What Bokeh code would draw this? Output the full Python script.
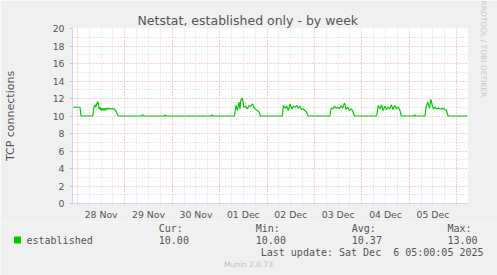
from bokeh.plotting import figure
from bokeh.models import FixedTicker, Grid, Range1d, Title
from bokeh.layouts import column
from bokeh.core.properties import value
from bokeh.embed import file_html
from bokeh.resources import INLINE

# ---- data (hours since 28 Nov 00:00) ----
hours = [-2.5, 1.3, 1.8, 7.8,
         8.3, 9.0, 9.3, 9.8, 10.3, 11.0, 11.5, 12.0, 12.5, 13.0, 13.5, 14.0, 14.5, 15.2, 15.7, 16.5, 18.7, 19.3, 20.7,
         32.5, 33.0, 33.5, 44.0, 44.5, 45.0,
         67.5, 68.0, 68.5,
         79.5, 80.3, 81.0, 81.8, 82.3, 82.7, 83.5, 84.3, 85.2, 86.0, 87.0, 87.7, 88.7, 89.3, 90.3, 91.2, 92.0, 92.7,
         103.7, 104.3, 105.2, 106.0, 106.8, 107.7, 108.5, 109.3, 110.2, 111.0, 111.8, 112.7, 113.5, 114.3, 115.2, 116.0, 116.8,
         127.8, 128.5, 129.3, 130.2, 131.0, 131.8, 132.7, 133.5, 134.3, 135.2, 136.0, 136.8, 137.7, 138.5, 139.3, 140.2,
         151.5, 152.3, 153.2, 154.0, 154.8, 155.7, 156.5, 157.3, 158.2, 159.0, 159.8, 160.7, 161.5, 162.3, 163.2, 164.0,
         170.2, 170.7, 171.2,
         176.0, 176.5, 177.3, 178.2, 179.0, 179.5, 180.2, 181.0, 181.8, 182.7, 183.5, 184.3, 185.2, 186.0, 186.8, 187.7, 197.5]
established = [11, 11, 10, 10,
               11.0, 11.28, 11.0, 11.4, 11.66, 10.82, 11.0, 10.63, 10.9, 10.63, 10.9, 10.63, 10.9, 10.74, 10.9, 10.82, 10.82, 10.63, 10.0,
               10, 10.15, 10, 10, 10.12, 10,
               10, 10.12, 10,
               10, 11.2, 10.63, 11.58, 10.82, 11.77, 12.04, 11.0, 11.12, 10.82, 11.2, 11.12, 11.39, 11.0, 10.74, 10.63, 10.44, 10.0,
               10, 11.2, 10.9, 11.12, 10.63, 11.39, 10.82, 11.12, 11.01, 11.2, 10.9, 11.12, 10.74, 10.82, 10.63, 10.44, 10.0,
               10, 10.9, 10.82, 11.12, 10.9, 11.01, 10.82, 11.2, 10.9, 11.5, 10.74, 11.01, 10.63, 10.82, 10.63, 10.0,
               10, 11.2, 10.82, 11.28, 10.63, 11.12, 10.74, 11.01, 10.82, 11.28, 10.74, 11.2, 10.82, 11.01, 10.74, 10.0,
               10, 10.12, 10,
               10, 11.01, 11.58, 10.9, 11.89, 11.39, 10.82, 11.01, 10.82, 10.9, 10.82, 10.82, 10.9, 10.74, 10.63, 10.0, 10]

day_labels = ["28 Nov", "29 Nov", "30 Nov", "01 Dec", "02 Dec", "03 Dec", "04 Dec", "05 Dec"]
day_centers = [12, 36, 60, 84, 108, 132, 156, 180]
midnights = [0, 24, 48, 72, 96, 120, 144, 168, 192]
six_hours = [0, 6, 12, 18, 24, 30, 36, 42, 48, 54, 60, 66, 72, 78, 84, 90, 96, 102, 108, 114,
             120, 126, 132, 138, 144, 150, 156, 162, 168, 174, 180, 186, 192]
y_ticks = [0, 2, 4, 6, 8, 10, 12, 14, 16, 18, 20]
y_minor = [1, 3, 5, 7, 9, 11, 13, 15, 17, 19]
stat_names = ["Cur:", "Min:", "Avg:", "Max:"]
stat_values = ["10.00", "10.00", "10.37", "13.00"]

title_text = "Netstat, established only - by week"
y_label = "TCP connections"
series_name = "established"
last_update = "Last update: Sat Dec \u00a06 05:00:05 2025"
footer = "Munin 2.0.73"
watermark = "RRDTOOL / TOBI OETIKER"

TEXT = "#555555"
FONT = "DejaVu Sans"
MONO = "DejaVu Sans Mono"
BG = "#f0f0f0"
AXIS = "#cfd6f8"
MGRID = "#eba0a0"
GRID = "#d4d4d4"

p = figure(width=497, height=222, output_backend="svg", toolbar_location=None,
           x_range=Range1d(-2.5, 197.5), y_range=Range1d(0, 20),
           min_border_left=67, min_border_right=30, min_border_top=28, min_border_bottom=19)
p.frame_align = False
p.title.text = title_text
p.title.align = "left"
p.title.offset = 65
p.title.standoff = 2
p.title.text_font = FONT
p.title.text_font_size = "12.5px"
p.title.text_font_style = "normal"
p.title.text_color = TEXT
p.background_fill_color = "#ffffff"
p.border_fill_color = BG
p.outline_line_color = None

wm = Title(text=watermark, align="left", vertical_align="top", offset=-28,
           text_font=FONT, text_font_size="7.5px", text_font_style="normal",
           text_color="#c8c8c8", standoff=19)
p.add_layout(wm, "right")

# x axis: day labels at noon, 6-hour minor ticks
p.xaxis.ticker = FixedTicker(ticks=day_centers, minor_ticks=six_hours)
p.xaxis.major_label_overrides = {c: l for c, l in zip(day_centers, day_labels)}
p.xaxis.major_label_text_font = FONT
p.xaxis.major_label_text_font_size = "9.3px"
p.xaxis.major_label_text_color = TEXT
p.xaxis.major_label_standoff = 3
p.xaxis.axis_line_color = AXIS
p.xaxis.major_tick_line_color = None
p.xaxis.major_tick_in = 0
p.xaxis.major_tick_out = 2
p.xaxis.minor_tick_line_color = "#dddddd"
p.xaxis.minor_tick_in = 0
p.xaxis.minor_tick_out = 2

p.yaxis.ticker = FixedTicker(ticks=y_ticks, minor_ticks=y_minor)
p.yaxis.axis_line_color = AXIS
p.yaxis.major_tick_line_color = "#bbbbbb"
p.yaxis.major_tick_in = 0
p.yaxis.major_tick_out = 2
p.yaxis.minor_tick_line_color = None
p.yaxis.major_label_standoff = 4
p.yaxis.major_label_text_font = FONT
p.yaxis.major_label_text_font_size = "9.3px"
p.yaxis.major_label_text_color = TEXT
p.yaxis.axis_label = y_label
p.yaxis.axis_label_text_font = FONT
p.yaxis.axis_label_text_font_size = "11px"
p.yaxis.axis_label_text_font_style = "normal"
p.yaxis.axis_label_text_color = TEXT
p.yaxis.axis_label_standoff = 33

# grids
p.xgrid.ticker = FixedTicker(ticks=midnights)
p.xgrid.grid_line_color = MGRID
p.xgrid.grid_line_dash = "1 2"
p.add_layout(Grid(dimension=0, ticker=FixedTicker(ticks=[h for h in six_hours if h not in midnights]),
                  grid_line_color=GRID, grid_line_dash="1 2"), "center")
p.ygrid.ticker = FixedTicker(ticks=y_ticks[1:], minor_ticks=y_minor)
p.ygrid.grid_line_color = MGRID
p.ygrid.grid_line_dash = "1 2"
p.ygrid.minor_grid_line_color = GRID
p.ygrid.minor_grid_line_dash = "1 2"

p.line(hours, established, line_color="#00cc00", line_width=1.2)

# ---- legend panel (pixel coordinates of the panel) ----
q = figure(width=497, height=53, output_backend="svg", toolbar_location=None,
           x_range=Range1d(0, 497), y_range=Range1d(53, 0),
           x_axis_location=None, y_axis_location=None,
           min_border=0, min_border_left=0, min_border_right=0, min_border_top=0, min_border_bottom=0)
q.frame_align = False
q.grid.visible = False
q.outline_line_color = None
q.background_fill_color = BG
q.border_fill_color = BG

q.scatter([17], [17.5], marker="square", size=6, fill_color="#00cc00", line_color="#00cc00")
q.text([26], [17.5], text=[series_name], text_font=value(MONO), text_font_size="10px",
       text_color=TEXT, text_align="left", text_baseline="middle")
stat_x = [158.3, 255.3, 351.3, 447.0]
q.text(stat_x, [5.5] * 4, text=stat_names, text_font=value(MONO), text_font_size="10px",
       text_color=TEXT, text_align="left", text_baseline="middle")
q.text(stat_x, [17.5] * 4, text=stat_values, text_font=value(MONO), text_font_size="10px",
       text_color=TEXT, text_align="left", text_baseline="middle")
q.text([483], [29.7], text=[last_update], text_font=value(MONO), text_font_size="10px",
       text_color=TEXT, text_align="right", text_baseline="middle")
q.text([248], [41.5], text=[footer], text_font=value(FONT), text_font_size="7.5px",
       text_color="#c0c0c0", text_align="center", text_baseline="middle")

layout = column(p, q, spacing=0)
open("out.html", "w").write(file_html(layout, INLINE))
